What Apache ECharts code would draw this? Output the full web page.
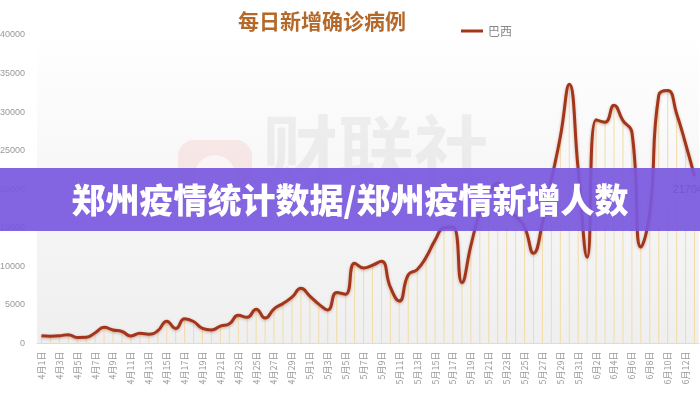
<!DOCTYPE html>
<html>
<head>
<meta charset="utf-8">
<script src="https://cdn.jsdelivr.net/npm/echarts@6/dist/echarts.min.js"></script>
<style>html,body{margin:0;padding:0;background:#fff}#c{width:700px;height:400px}</style>
</head>
<body>
<div id="c"></div>
<script>
// categories: 4月1日 .. 6月13日
var categories = [];
(function(){
  var months = [[4,30],[5,31],[6,13]];
  for (var m = 0; m < months.length; m++) {
    for (var d = 1; d <= months[m][1]; d++) categories.push(months[m][0] + '月' + d + '日');
  }
})();
var seriesName = '巴西';
var values = [
  1000, 950, 1000, 1150, 780, 800, 1400, 2100, 1750, 1550,
  980, 1320, 1200, 1650, 2900, 1950, 3200, 2850, 1950, 1750,
  2250, 2550, 3650, 3400, 4450, 3300, 4500, 5200, 6000, 7150,
  6150, 5100, 4350, 6600, 6400, 10400, 9800, 10150, 10650, 7300,
  5500, 8900, 9600, 11200, 13400, 15000, 15100, 7900, 12700, 17000,
  19500, 20800, 17500, 16500, 15100, 11700, 15600, 21200, 26800, 33600,
  22500, 11200, 29000, 28700, 30900, 28900, 27400, 12500, 16900, 32200,
  32800, 29800, 25900, 21704
];
var yTicks = [0, 5000, 10000, 15000, 20000, 25000, 30000, 35000, 40000];
var titleText = '每日新增确诊病例';
var bannerText = '郑州疫情统计数据/郑州疫情新增人数';
var watermarkText = '财联社';

var chart = echarts.init(document.getElementById('c'), null, {renderer: 'canvas'});
var lastIdx = values.length - 1;
var lineData = values.map(function(v, i){
  if (i === lastIdx) return {value: v, label: {show: true, position: [-22, 8], color: '#333', fontSize: 11}};
  return v;
});
chart.setOption({
  animation: false,
  title: {
    text: titleText, left: 233, top: 6,
    textStyle: {color: '#b4692a', fontSize: 21, fontWeight: 'bold', fontFamily: 'Noto Sans CJK SC'}
  },
  legend: {
    data: [seriesName], left: 456, top: 20, itemWidth: 22, itemHeight: 12, itemGap: 4,
    icon: 'path://M0,5 L22,5 L22,8 L0,8 Z',
    textStyle: {color: '#888', fontSize: 12, fontFamily: 'Noto Sans CJK SC'}
  },
  grid: {
    left: 37, right: 1, top: 35, bottom: 56.5, show: true, borderWidth: 0,
    containLabel: false, outerBoundsMode: 'none',
    backgroundColor: new echarts.graphic.LinearGradient(0, 0, 0, 1, [
      {offset: 0, color: '#ffffff'}, {offset: 0.45, color: '#f7f7f7'}, {offset: 1, color: '#efefef'}
    ])
  },
  xAxis: {
    type: 'category', data: categories, boundaryGap: true,
    axisLine: {lineStyle: {color: '#dcdcdc'}},
    axisTick: {interval: 1, lineStyle: {color: '#dcdcdc'}},
    axisLabel: {interval: 1, rotate: 90, color: '#999', fontSize: 9, margin: 8, fontFamily: 'Noto Sans CJK SC'}
  },
  yAxis: {
    type: 'value', min: yTicks[0], max: yTicks[yTicks.length - 1], interval: yTicks[1] - yTicks[0],
    axisLine: {show: false}, axisTick: {show: false}, splitLine: {show: false},
    axisLabel: {color: '#999', fontSize: 9, margin: 12, formatter: function(v){ return String(v); }}
  },
  series: [
    {
      type: 'bar', data: values, barWidth: 1, silent: true, legendHoverLink: false,
      itemStyle: {color: '#f3dba8'}, z: 1, tooltip: {show: false}
    },
    {
      name: seriesName, type: 'line', data: lineData, smooth: 0.5, showSymbol: true, symbol: 'circle', symbolSize: 0,
      lineStyle: {color: '#a3361a', width: 3, shadowColor: 'rgba(120,30,0,0.35)', shadowBlur: 3, shadowOffsetY: 1},
      itemStyle: {color: '#a3361a'}, z: 3,
      labelLayout: {hideOverlap: false}
    }
  ],
  graphic: [
    {
      type: 'group', z: 0, silent: true, children: [
        {type: 'rect', shape: {x: 178, y: 140, width: 74, height: 66, r: 16}, style: {fill: 'rgba(235,90,90,0.11)'}},
        {type: 'circle', shape: {cx: 215, cy: 175, r: 20}, style: {fill: 'rgba(255,255,255,0.6)'}},
        {type: 'text', left: 262, top: 112, style: {text: watermarkText, fontSize: 76, fontWeight: 'bold', fill: 'rgba(0,0,0,0.05)', fontFamily: 'Noto Sans CJK SC'}}
      ]
    },
    {
      type: 'rect', z: 100, silent: true, shape: {x: 0, y: 168, width: 700, height: 63},
      style: {fill: 'rgba(122,88,222,0.92)'}
    },
    {
      type: 'text', z: 101, silent: true, left: 'center', top: 183,
      style: {text: bannerText, fontSize: 34, fontWeight: 900, fill: '#ffffff', fontFamily: 'Noto Sans CJK SC',
        shadowColor: 'rgba(30,0,60,0.6)', shadowBlur: 3, shadowOffsetX: 1, shadowOffsetY: 1}
    }
  ]
});
</script>
</body>
</html>
